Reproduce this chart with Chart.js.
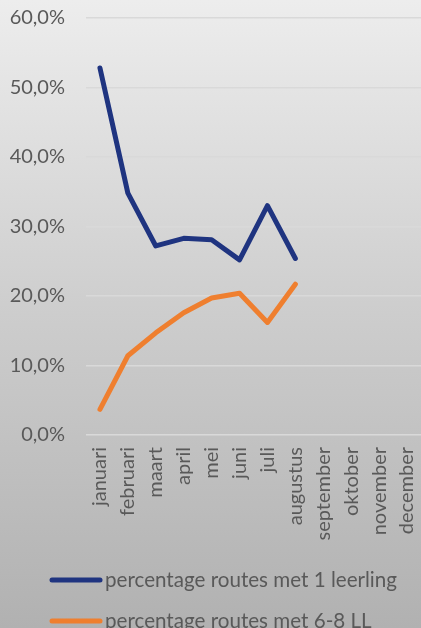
<!DOCTYPE html>
<html>
<head>
<meta charset="utf-8">
<script src="https://cdn.jsdelivr.net/npm/chart.js@4.4.0/dist/chart.umd.min.js"></script>
<style>
    html, body { margin: 0; padding: 0; }
    body {
        width: 421px;
        height: 628px;
        overflow: hidden;
        background: linear-gradient(to bottom, #ededed 0%, #cdcdcd 50%, #b1b1b1 100%);
    }
    #wrap { position: relative; width: 421px; height: 628px; }
</style>
</head>
<body>
<div id="wrap"><canvas id="chart"></canvas></div>
<script>
const months = ['januari', 'februari', 'maart', 'april', 'mei', 'juni', 'juli', 'augustus',
    'september', 'oktober', 'november', 'december'];
const oneStudent = [52.8, 34.8, 27.2, 28.3, 28.1, 25.2, 33.0, 25.4, null, null, null, null];
const sixToEight = [3.7, 11.4, 14.7, 17.6, 19.7, 20.4, 16.2, 21.7, null, null, null, null];
const seriesNames = ['percentage routes met 1 leerling', 'percentage routes met 6-8 LL'];
const seriesColors = ['#1f3480', '#ef7f2f'];

const textColor = '#595959';
const fontFamily = 'Lato, "Open Sans", sans-serif';

// legend drawn underneath, left aligned like the original
const legendPlugin = {
    id: 'leftLegend',
    afterDraw(chart) {
        const ctx = chart.ctx;
        ctx.save();
        ctx.font = '20.6px ' + fontFamily;
        ctx.textBaseline = 'middle';
        ctx.fillStyle = textColor;
        chart.data.datasets.forEach((ds, i) => {
            const y = 580 + i * 41;
            ctx.strokeStyle = ds.borderColor;
            ctx.lineWidth = 5;
            ctx.lineCap = 'round';
            ctx.beginPath();
            ctx.moveTo(52, y);
            ctx.lineTo(100, y);
            ctx.stroke();
            ctx.fillText(ds.label, 105, y);
        });
        ctx.restore();
    }
};

new Chart(document.getElementById('chart'), {
    type: 'line',
    data: {
        labels: months,
        datasets: [
            { label: seriesNames[0], data: oneStudent, borderColor: seriesColors[0], backgroundColor: seriesColors[0] },
            { label: seriesNames[1], data: sixToEight, borderColor: seriesColors[1], backgroundColor: seriesColors[1] }
        ]
    },
    options: {
        responsive: true,
        maintainAspectRatio: false,
        animation: false,
        layout: { padding: { top: 18, right: 0, left: 0, bottom: 73 } },
        elements: {
            line: { borderWidth: 5, tension: 0, borderCapStyle: 'round', borderJoinStyle: 'round' },
            point: { radius: 0 }
        },
        plugins: {
            legend: { display: false },
            tooltip: { enabled: false }
        },
        scales: {
            x: {
                offset: true,
                grid: { display: false, drawTicks: false },
                border: { display: false },
                ticks: {
                    color: textColor,
                    font: { family: fontFamily, size: 20 },
                    minRotation: 90,
                    maxRotation: 90,
                    autoSkip: false,
                    padding: 12
                },
                afterFit(scale) {
                    scale.height = 120;
                    scale.paddingLeft = 0;
                    scale.paddingRight = 0;
                }
            },
            y: {
                min: 0,
                max: 60,
                grid: { color: '#d9d9d9', lineWidth: 1.5, drawTicks: false },
                border: { display: false },
                ticks: {
                    stepSize: 10,
                    color: textColor,
                    font: { family: fontFamily, size: 20 },
                    padding: 21,
                    callback: v => v.toFixed(1).replace('.', ',') + '%'
                },
                afterFit(scale) {
                    scale.width = 86;
                    scale.paddingTop = 0;
                    scale.paddingBottom = 0;
                }
            }
        }
    },
    plugins: [legendPlugin]
});
</script>
</body>
</html>
